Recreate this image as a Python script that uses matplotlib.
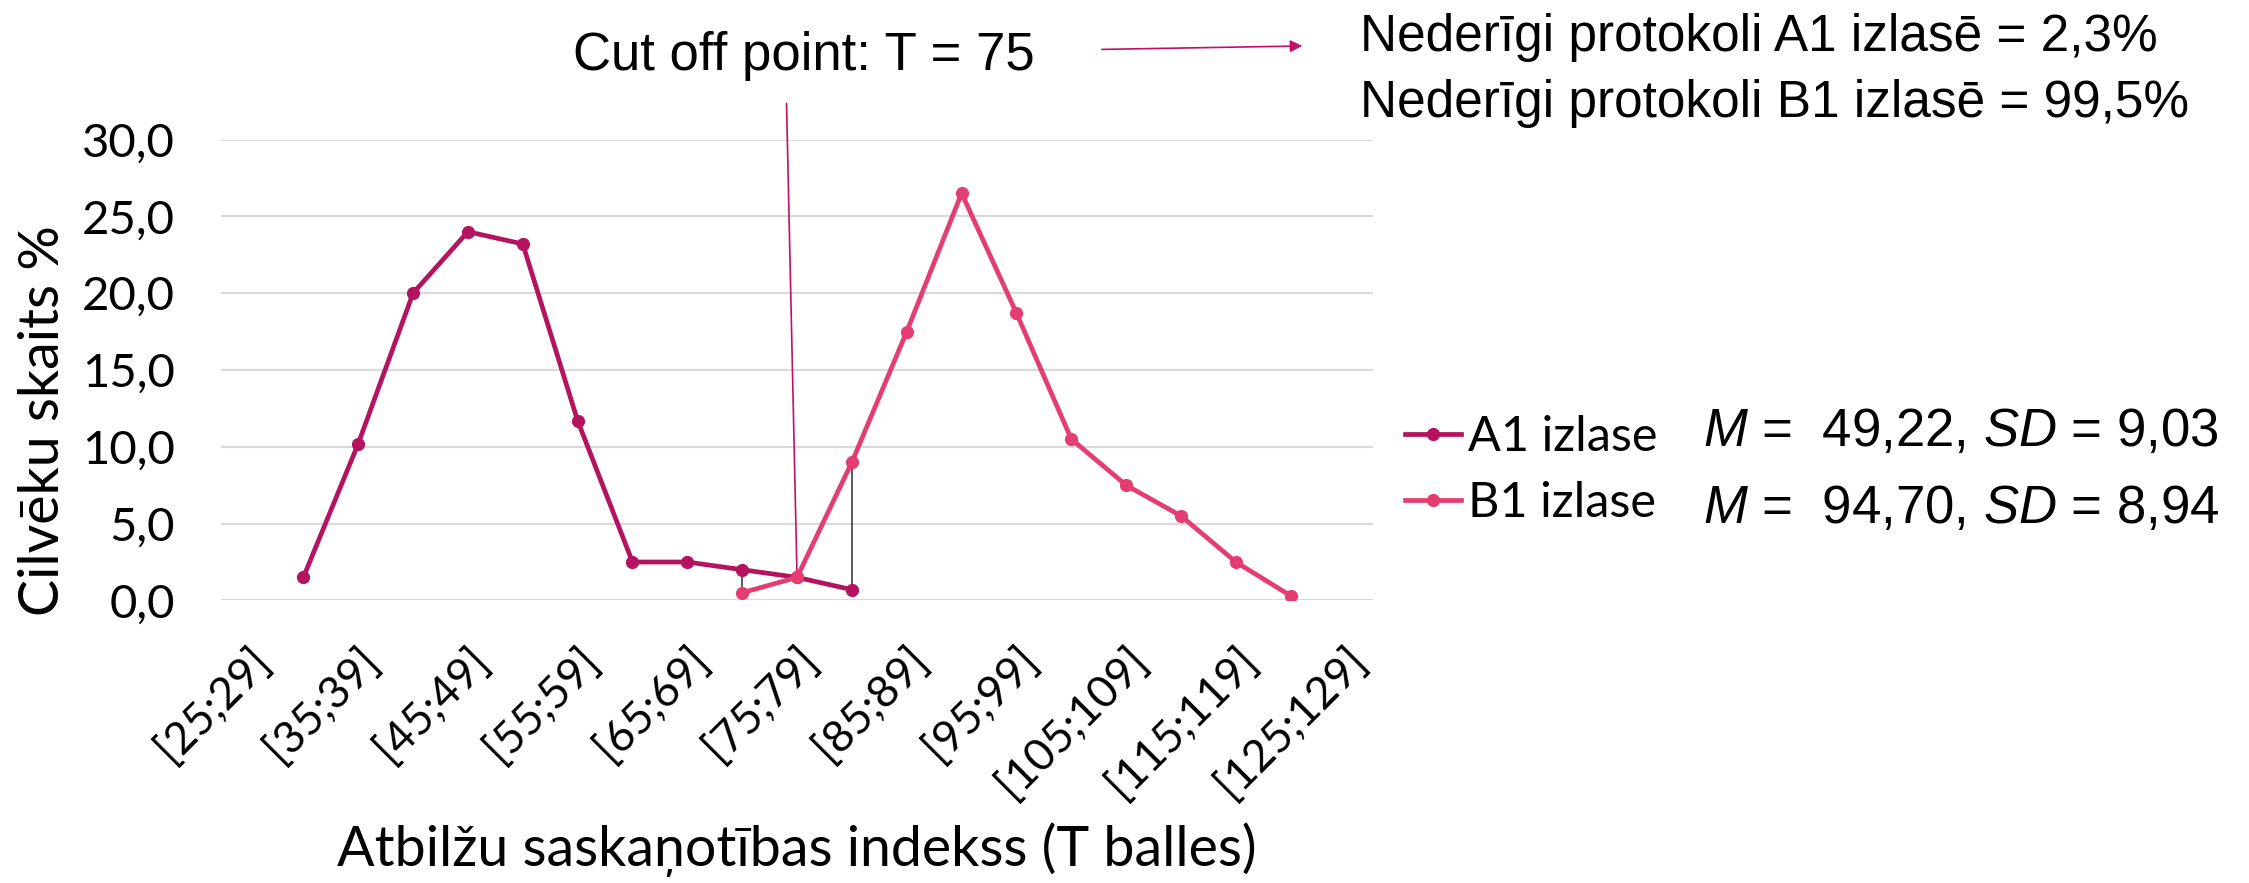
import numpy as np
import matplotlib.pyplot as plt
from matplotlib.lines import Line2D
from matplotlib.patches import FancyArrowPatch

plt.rcParams['mathtext.fontset'] = 'custom'
plt.rcParams['mathtext.it'] = 'Liberation Sans:italic'
plt.rcParams['mathtext.rm'] = 'Liberation Sans'

categories = ['[25;29]', '[30;34]', '[35;39]', '[40;44]', '[45;49]', '[50;54]',
              '[55;59]', '[60;64]', '[65;69]', '[70;74]', '[75;79]', '[80;84]',
              '[85;89]', '[90;94]', '[95;99]', '[100;104]', '[105;109]',
              '[110;114]', '[115;119]', '[120;124]', '[125;129]']
a1 = [np.nan, 1.5, 10.2, 20.0, 24.0, 23.2, 11.7, 2.5, 2.5, 2.0, 1.5, 0.7,
      np.nan, np.nan, np.nan, np.nan, np.nan, np.nan, np.nan, np.nan, np.nan]
b1 = [np.nan, np.nan, np.nan, np.nan, np.nan, np.nan, np.nan, np.nan, np.nan,
      0.5, 1.5, 9.0, 17.5, 26.5, 18.7, 10.5, 7.5, 5.5, 2.5, 0.3, np.nan]
yticks = [0, 5, 10, 15, 20, 25, 30]

c_a1 = '#B3135F'
c_b1 = '#E43D71'
gfont = 'Lato'

fig = plt.figure(figsize=(22.49, 8.83), dpi=100)
ax = fig.add_axes([0.0983, 0.320, 0.5122, 0.522])

x = np.arange(len(categories))
a = np.array(a1)
b = np.array(b1)

# high-low lines where both series exist
both = ~np.isnan(a) & ~np.isnan(b)
ax.vlines(x[both], np.minimum(a, b)[both], np.maximum(a, b)[both],
          color='#404040', lw=1.2, zorder=2)

ax.plot(x, a, color=c_a1, lw=3.4, marker='o', ms=8.5, zorder=3)
ax.plot(x, b, color=c_b1, lw=3.4, marker='o', ms=8.5, zorder=4)

ax.set_xlim(-0.5, len(categories) - 0.5)
ax.set_ylim(0, 30)
ax.set_yticks(yticks)
ax.set_yticklabels([f'{v:.1f}'.replace('.', ',') for v in yticks],
                   fontsize=34, family=gfont)
ax.set_xticks(x[::2])
ax.set_xticklabels(categories[::2], rotation=45, ha='right',
                   rotation_mode='anchor', fontsize=32, family=gfont)
ax.tick_params(axis='both', length=0)
ax.tick_params(axis='x', pad=28)
ax.tick_params(axis='y', pad=33)
ax.grid(axis='y', color='#D9D9D9', lw=1.5)
ax.set_axisbelow(True)
for s in ax.spines.values():
    s.set_visible(False)

ax.set_ylabel('Cilvēku skaits %', fontsize=40, family=gfont)
ax.yaxis.set_label_coords(-0.132, 0.39)
ax.set_xlabel('Atbilžu saskaņotības indekss (T balles)', fontsize=40,
              family=gfont, labelpad=12)

# cut off annotation
ax.annotate('', xy=(10, 1.5), xycoords='data',
            xytext=(0.3497, 0.886), textcoords='figure fraction',
            arrowprops=dict(arrowstyle='-', color='#C0106A', lw=1.2))
fig.text(0.3575, 0.937, 'Cut off point: T = 75', fontsize=38,
         family='Liberation Sans', ha='center', va='center')
fig.patches.append(FancyArrowPatch(
    (0.4887, 0.944), (0.5803, 0.948), transform=fig.transFigure,
    arrowstyle='-|>', mutation_scale=18, color='#C0106A', lw=1.2))

fig.text(0.6047, 0.958, 'Nederīgi protokoli A1 izlasē = 2,3%', fontsize=37,
         family='Liberation Sans', ha='left', va='center')
fig.text(0.6047, 0.883, 'Nederīgi protokoli B1 izlasē = 99,5%', fontsize=37,
         family='Liberation Sans', ha='left', va='center')

handles = [Line2D([], [], color=c_a1, lw=3.4, marker='o', ms=8.5),
           Line2D([], [], color=c_b1, lw=3.4, marker='o', ms=8.5)]
fig.legend(handles, ['A1 izlase', 'B1 izlase'], loc='center left',
           bbox_to_anchor=(0.6247, 0.4677), frameon=False, borderpad=0,
           borderaxespad=0, handlelength=1.15, handletextpad=0.15,
           labelspacing=0.45, prop={'family': gfont, 'size': 35})

fig.text(0.7572, 0.511, r'$\it{M}$ =  49,22, $\it{SD}$ = 9,03', fontsize=38,
         family='Liberation Sans', ha='left', va='center')
fig.text(0.7572, 0.423, r'$\it{M}$ =  94,70, $\it{SD}$ = 8,94', fontsize=38,
         family='Liberation Sans', ha='left', va='center')

fig.savefig('out.png', dpi=100)
